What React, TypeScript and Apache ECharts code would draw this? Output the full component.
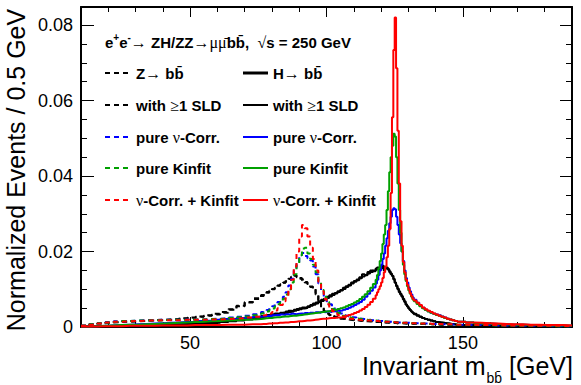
import React, { useEffect, useRef } from "react";
import * as echarts from "echarts";

// ---------- bin layout (left edges, GeV) ----------
function steps(from: number, to: number, step: number): number[] {
  const out: number[] = [];
  for (let x = from; x < to - 1e-9; x += step) out.push(Math.round(x * 10) / 10);
  return out;
}
const binStarts = [
  ...steps(10, 76, 3),
  ...steps(76, 118, 1),
  ...steps(118, 132, 0.5),
  ...steps(132, 148, 1),
  ...steps(148, 190, 3),
];
const X_MIN = 10;
const X_MAX = 190;

// ---------- ZZ -> bb (dashed) ----------
const zbbAll = [
  0.0003, 0.0006, 0.0009, 0.0011, 0.0013, 0.0014, 0.0015, 0.0016, 0.0017, 0.0018, 0.0019, 0.002, 0.0022, 0.0024, 0.0027, 0.003, 0.0033, 0.0038, 0.0046, 0.0055, 0.0066, 0.0076,
  0.0085, 0.0089, 0.0093, 0.0096, 0.0101, 0.0104, 0.0109, 0.0113, 0.0118, 0.0121, 0.0127, 0.0133, 0.0138, 0.0134, 0.013, 0.0124, 0.0118, 0.0112, 0.0107, 0.0101, 0.009, 0.0072, 0.0054, 0.0042, 0.0036, 0.0031, 0.0028, 0.0026, 0.0024, 0.0022, 0.0021, 0.002, 0.0019, 0.0018, 0.0018, 0.0017, 0.0016, 0.0016, 0.0015, 0.0015, 0.0014, 0.0014,
  0.0013, 0.0013, 0.0013, 0.0013, 0.0012, 0.0012, 0.0012, 0.0012, 0.0012, 0.0011, 0.0011, 0.0011, 0.0011, 0.0011, 0.0011, 0.001, 0.001, 0.001, 0.001, 0.001, 0.001, 0.001, 0.0009, 0.0009, 0.0009, 0.0009, 0.0009, 0.0009,
  0.0009, 0.0009, 0.0008, 0.0008, 0.0008, 0.0008, 0.0007, 0.0007, 0.0007, 0.0007, 0.0006, 0.0006, 0.0006, 0.0006, 0.0006, 0.0005,
  0.0005, 0.0005, 0.0005, 0.0004, 0.0004, 0.0004, 0.0004, 0.0003, 0.0003, 0.0003, 0.0003, 0.0003, 0.0002, 0.0002,
];
const zbbSld = [
  0.0003, 0.0007, 0.001, 0.0012, 0.0013, 0.0015, 0.0016, 0.0016, 0.0018, 0.0019, 0.002, 0.0021, 0.0023, 0.0025, 0.0028, 0.0031, 0.0035, 0.004, 0.0047, 0.0056, 0.0065, 0.0074,
  0.0082, 0.0087, 0.0091, 0.0097, 0.01, 0.0106, 0.011, 0.0115, 0.0117, 0.0123, 0.0128, 0.0131, 0.0136, 0.0132, 0.0128, 0.0126, 0.0119, 0.0114, 0.0106, 0.0099, 0.0086, 0.0068, 0.0051, 0.0041, 0.0035, 0.0032, 0.0029, 0.0027, 0.0025, 0.0023, 0.0022, 0.0021, 0.002, 0.0019, 0.0019, 0.0018, 0.0017, 0.0017, 0.0016, 0.0015, 0.0015, 0.0014,
  0.0014, 0.0013, 0.0014, 0.0013, 0.0013, 0.0012, 0.0013, 0.0012, 0.0012, 0.0012, 0.0011, 0.0012, 0.0011, 0.0011, 0.0011, 0.001, 0.0011, 0.001, 0.001, 0.001, 0.001, 0.0009, 0.001, 0.0009, 0.0009, 0.0009, 0.0009, 0.0008,
  0.0009, 0.0008, 0.0008, 0.0008, 0.0007, 0.0008, 0.0007, 0.0007, 0.0007, 0.0006, 0.0006, 0.0006, 0.0006, 0.0005, 0.0005, 0.0005,
  0.0005, 0.0005, 0.0004, 0.0004, 0.0004, 0.0004, 0.0003, 0.0003, 0.0003, 0.0003, 0.0003, 0.0002, 0.0002, 0.0002,
];
const zbbNuCorr = [
  0.0003, 0.0007, 0.001, 0.0013, 0.0015, 0.0016, 0.0017, 0.0018, 0.0018, 0.0019, 0.0019, 0.0019, 0.002, 0.002, 0.002, 0.0021, 0.0022, 0.0023, 0.0025, 0.0027, 0.003, 0.0034,
  0.004, 0.0042, 0.0045, 0.005, 0.0055, 0.006, 0.0066, 0.0072, 0.008, 0.0092, 0.011, 0.0128, 0.015, 0.017, 0.019, 0.0196, 0.0188, 0.0182, 0.0176, 0.016, 0.014, 0.0115, 0.0095, 0.008, 0.0068, 0.006, 0.0052, 0.0046, 0.004, 0.0036, 0.0032, 0.003, 0.0028, 0.0026, 0.0025, 0.0023, 0.0022, 0.0021, 0.002, 0.0019, 0.0018, 0.0018,
  0.0017, 0.0017, 0.0016, 0.0016, 0.0016, 0.0015, 0.0015, 0.0015, 0.0014, 0.0014, 0.0014, 0.0014, 0.0013, 0.0013, 0.0013, 0.0013, 0.0012, 0.0012, 0.0012, 0.0012, 0.0011, 0.0011, 0.0011, 0.0011, 0.0011, 0.001, 0.001, 0.001,
  0.001, 0.001, 0.0009, 0.0009, 0.0009, 0.0009, 0.0008, 0.0008, 0.0008, 0.0008, 0.0007, 0.0007, 0.0007, 0.0007, 0.0006, 0.0006,
  0.0006, 0.0005, 0.0005, 0.0005, 0.0004, 0.0004, 0.0004, 0.0003, 0.0003, 0.0003, 0.0003, 0.0002, 0.0002, 0.0002,
];
const zbbKinfit = [
  0.0003, 0.0007, 0.001, 0.0012, 0.0014, 0.0016, 0.0017, 0.0017, 0.0018, 0.0018, 0.0019, 0.0019, 0.0019, 0.002, 0.002, 0.0021, 0.0021, 0.0022, 0.0024, 0.0026, 0.0028, 0.0031,
  0.0036, 0.0038, 0.0041, 0.0045, 0.0049, 0.0054, 0.006, 0.0066, 0.0075, 0.0086, 0.01, 0.0118, 0.014, 0.0165, 0.019, 0.0208, 0.021, 0.0195, 0.018, 0.0165, 0.0145, 0.012, 0.0098, 0.008, 0.0066, 0.0056, 0.0048, 0.0042, 0.0037, 0.0033, 0.003, 0.0028, 0.0026, 0.0024, 0.0023, 0.0022, 0.0021, 0.002, 0.0019, 0.0018, 0.0018, 0.0017,
  0.0017, 0.0016, 0.0016, 0.0016, 0.0015, 0.0015, 0.0015, 0.0015, 0.0014, 0.0014, 0.0014, 0.0013, 0.0013, 0.0013, 0.0013, 0.0012, 0.0012, 0.0012, 0.0012, 0.0011, 0.0011, 0.0011, 0.0011, 0.001, 0.001, 0.001, 0.001, 0.001,
  0.001, 0.0009, 0.0009, 0.0009, 0.0009, 0.0008, 0.0008, 0.0008, 0.0008, 0.0007, 0.0007, 0.0007, 0.0007, 0.0006, 0.0006, 0.0006,
  0.0006, 0.0005, 0.0005, 0.0005, 0.0004, 0.0004, 0.0004, 0.0003, 0.0003, 0.0003, 0.0003, 0.0002, 0.0002, 0.0002,
];
const zbbNuKin = [
  0.0003, 0.0006, 0.0009, 0.0012, 0.0014, 0.0015, 0.0016, 0.0017, 0.0017, 0.0018, 0.0018, 0.0018, 0.0019, 0.0019, 0.0019, 0.002, 0.002, 0.0021, 0.0022, 0.0023, 0.0025, 0.0027,
  0.0029, 0.0031, 0.0033, 0.0036, 0.004, 0.0044, 0.005, 0.0058, 0.0068, 0.0082, 0.01, 0.0125, 0.016, 0.02, 0.024, 0.027, 0.0262, 0.024, 0.021, 0.018, 0.015, 0.012, 0.0095, 0.0075, 0.006, 0.005, 0.0042, 0.0036, 0.0032, 0.0028, 0.0026, 0.0024, 0.0022, 0.0021, 0.002, 0.0019, 0.0018, 0.0018, 0.0017, 0.0017, 0.0016, 0.0016,
  0.0016, 0.0016, 0.0015, 0.0015, 0.0015, 0.0015, 0.0014, 0.0014, 0.0014, 0.0014, 0.0013, 0.0013, 0.0013, 0.0013, 0.0012, 0.0012, 0.0012, 0.0012, 0.0012, 0.0011, 0.0011, 0.0011, 0.0011, 0.0011, 0.001, 0.001, 0.001, 0.001,
  0.001, 0.001, 0.0009, 0.0009, 0.0009, 0.0009, 0.0008, 0.0008, 0.0008, 0.0008, 0.0007, 0.0007, 0.0007, 0.0007, 0.0006, 0.0006,
  0.0006, 0.0006, 0.0005, 0.0005, 0.0005, 0.0004, 0.0004, 0.0004, 0.0004, 0.0003, 0.0003, 0.0003, 0.0003, 0.0002,
];

// ---------- ZH -> bb (solid) ----------
const hbbAll = [
  0.0001, 0.0001, 0.0002, 0.0002, 0.0003, 0.0003, 0.0004, 0.0004, 0.0005, 0.0005, 0.0006, 0.0006, 0.0007, 0.0008, 0.0009, 0.001, 0.0011, 0.0013, 0.0015, 0.0017, 0.002, 0.0023,
  0.0025, 0.0027, 0.0029, 0.003, 0.0031, 0.0033, 0.0034, 0.0035, 0.0037, 0.0038, 0.004, 0.0041, 0.0043, 0.0045, 0.0047, 0.0049, 0.005, 0.0053, 0.0056, 0.0059, 0.0062, 0.0066, 0.0069, 0.0073, 0.0077, 0.0081, 0.0085, 0.0089, 0.0093, 0.0097, 0.0101, 0.0106, 0.011, 0.0115, 0.012, 0.0124, 0.0129, 0.0134, 0.0137, 0.0142, 0.0146, 0.015,
  0.0152, 0.0156, 0.0155, 0.0158, 0.016, 0.0157, 0.0159, 0.0156, 0.0158, 0.0154, 0.0148, 0.0142, 0.0136, 0.0126, 0.0117, 0.0108, 0.01, 0.0092, 0.0086, 0.008, 0.0073, 0.0066, 0.0059, 0.0054, 0.0049, 0.0045, 0.0041, 0.0038,
  0.0034, 0.003, 0.0027, 0.0024, 0.0021, 0.0019, 0.0017, 0.0015, 0.0013, 0.0012, 0.0011, 0.001, 0.0009, 0.0008, 0.0007, 0.0006,
  0.0005, 0.0005, 0.0004, 0.0004, 0.0003, 0.0003, 0.0003, 0.0002, 0.0002, 0.0002, 0.0001, 0.0001, 0.0001, 0.0001,
];
const hbbSld = [
  0.0001, 0.0002, 0.0002, 0.0003, 0.0003, 0.0004, 0.0004, 0.0005, 0.0005, 0.0006, 0.0006, 0.0007, 0.0008, 0.0009, 0.001, 0.0011, 0.0013, 0.0015, 0.0017, 0.002, 0.0023, 0.0026,
  0.0029, 0.003, 0.0032, 0.0031, 0.0034, 0.0036, 0.0035, 0.0038, 0.0039, 0.0041, 0.0043, 0.0042, 0.0046, 0.0048, 0.005, 0.0052, 0.0051, 0.0055, 0.0058, 0.0062, 0.0065, 0.0068, 0.0072, 0.0075, 0.008, 0.0084, 0.0088, 0.009, 0.0095, 0.0098, 0.0104, 0.0108, 0.0112, 0.0118, 0.0122, 0.0126, 0.0132, 0.014, 0.0138, 0.0146, 0.015, 0.0148,
  0.0155, 0.0158, 0.0152, 0.016, 0.0156, 0.0162, 0.015, 0.0158, 0.0155, 0.0152, 0.0145, 0.014, 0.0135, 0.0128, 0.0118, 0.011, 0.0102, 0.0095, 0.0088, 0.0082, 0.0075, 0.0068, 0.006, 0.0055, 0.005, 0.0045, 0.0041, 0.0038,
  0.0035, 0.0031, 0.0027, 0.0024, 0.0021, 0.0019, 0.0017, 0.0015, 0.0013, 0.0012, 0.0011, 0.001, 0.0009, 0.0008, 0.0007, 0.0006,
  0.0005, 0.0004, 0.0004, 0.0003, 0.0003, 0.0003, 0.0002, 0.0002, 0.0002, 0.0002, 0.0001, 0.0001, 0.0001, 0.0001,
];
const hbbNuCorr = [
  0.0001, 0.0002, 0.0003, 0.0004, 0.0005, 0.0006, 0.0007, 0.0008, 0.0009, 0.001, 0.0011, 0.0012, 0.0013, 0.0014, 0.0016, 0.0017, 0.0019, 0.0021, 0.0022, 0.0024, 0.0025, 0.0027,
  0.0028, 0.0029, 0.003, 0.0029, 0.0031, 0.0032, 0.0031, 0.0033, 0.0032, 0.0034, 0.0033, 0.0035, 0.0034, 0.0035, 0.0036, 0.0035, 0.0037, 0.0036, 0.0038, 0.0037, 0.0039, 0.0038, 0.004, 0.0039, 0.0041, 0.004, 0.0042, 0.0041, 0.0043, 0.0044, 0.0046, 0.0048, 0.0051, 0.0054, 0.0058, 0.0062, 0.0066, 0.0072, 0.008, 0.0088, 0.0096, 0.0105,
  0.0115, 0.0125, 0.0138, 0.015, 0.0165, 0.018, 0.0195, 0.0215, 0.0235, 0.0255, 0.0275, 0.0292, 0.031, 0.0315, 0.0312, 0.0292, 0.027, 0.0245, 0.0222, 0.02, 0.0175, 0.015, 0.013, 0.0118, 0.0105, 0.0095, 0.0086, 0.0078,
  0.0072, 0.0064, 0.0057, 0.0051, 0.0046, 0.0042, 0.0038, 0.0035, 0.0033, 0.0031, 0.0028, 0.0025, 0.0022, 0.002, 0.0018, 0.0016,
  0.0014, 0.0012, 0.001, 0.0009, 0.0008, 0.0007, 0.0006, 0.0006, 0.0005, 0.0005, 0.0004, 0.0004, 0.0004, 0.0003,
];
const hbbKinfit = [
  0.0001, 0.0002, 0.0003, 0.0004, 0.0005, 0.0006, 0.0006, 0.0007, 0.0008, 0.0009, 0.001, 0.0011, 0.0012, 0.0013, 0.0014, 0.0015, 0.0016, 0.0017, 0.0018, 0.0019, 0.002, 0.0021,
  0.0022, 0.0023, 0.0024, 0.0024, 0.0025, 0.0026, 0.0026, 0.0027, 0.0028, 0.0028, 0.0029, 0.003, 0.003, 0.0031, 0.0032, 0.0033, 0.0034, 0.0035, 0.0036, 0.0037, 0.0038, 0.0039, 0.004, 0.0041, 0.0042, 0.0043, 0.0045, 0.0046, 0.0048, 0.005, 0.0052, 0.0055, 0.0058, 0.0061, 0.0065, 0.0069, 0.0074, 0.008, 0.0087, 0.0095, 0.0104, 0.0114,
  0.0125, 0.0138, 0.0155, 0.0175, 0.0195, 0.022, 0.0245, 0.027, 0.031, 0.036, 0.041, 0.045, 0.048, 0.0512, 0.0505, 0.045, 0.038, 0.031, 0.025, 0.02, 0.0165, 0.014, 0.0122, 0.0108, 0.0097, 0.0088, 0.008, 0.0073,
  0.0068, 0.0061, 0.0055, 0.005, 0.0045, 0.0041, 0.0038, 0.0035, 0.0032, 0.003, 0.0027, 0.0024, 0.0022, 0.002, 0.0018, 0.0016,
  0.0014, 0.0012, 0.001, 0.0009, 0.0008, 0.0007, 0.0006, 0.0006, 0.0005, 0.0005, 0.0004, 0.0004, 0.0004, 0.0003,
];
const hbbNuKin = [
  0.0001, 0.0001, 0.0002, 0.0002, 0.0002, 0.0003, 0.0003, 0.0003, 0.0003, 0.0004, 0.0004, 0.0004, 0.0004, 0.0005, 0.0005, 0.0005, 0.0005, 0.0006, 0.0006, 0.0006, 0.0007, 0.0007,
  0.0008, 0.0008, 0.0009, 0.0009, 0.001, 0.001, 0.0011, 0.0011, 0.0012, 0.0012, 0.0013, 0.0013, 0.0014, 0.0015, 0.0015, 0.0016, 0.0017, 0.0017, 0.0018, 0.0019, 0.002, 0.0021, 0.0022, 0.0022, 0.0023, 0.0024, 0.0024, 0.0025, 0.0025, 0.0026, 0.0028, 0.003, 0.0032, 0.0034, 0.0037, 0.004, 0.0044, 0.0048, 0.0053, 0.0059, 0.0066, 0.0075,
  0.0084, 0.0092, 0.01, 0.0108, 0.0118, 0.013, 0.0145, 0.016, 0.0185, 0.0215, 0.026, 0.0355, 0.0556, 0.0734, 0.082, 0.0686, 0.052, 0.038, 0.028, 0.0215, 0.0172, 0.0145, 0.0125, 0.0112, 0.01, 0.009, 0.0082, 0.0075,
  0.007, 0.0064, 0.0058, 0.0052, 0.0047, 0.0043, 0.004, 0.0036, 0.0033, 0.003, 0.0027, 0.0025, 0.0022, 0.002, 0.0018, 0.0016,
  0.0014, 0.0012, 0.0011, 0.001, 0.0009, 0.0008, 0.0007, 0.0007, 0.0006, 0.0006, 0.0005, 0.0005, 0.0005, 0.0004,
];

// ---------- axes / text ----------
const xMajorTicks = [50, 100, 150];
const yMax = 0.0848;
const yTitle = "Normalized Events / 0.5 GeV";
const headerText =
  "{b|e}{sp|+}{b|e}{sp|-}{g|\u2192}{b| ZH/ZZ}{g|\u2192\u03bc\u03bc\u0304}{b|bb\u0304,  }{g|\u221a}{b|s = 250 GeV}";
const legendLeft = [
  "Z{g|\u2192} bb\u0304",
  "with {g|\u2265}1 SLD",
  "pure {g|\u03bd}-Corr.",
  "pure Kinfit",
  "{g|\u03bd}-Corr. + Kinfit",
];
const legendRight = [
  "H{g|\u2192} bb\u0304",
  "with {g|\u2265}1 SLD",
  "pure {g|\u03bd}-Corr.",
  "pure Kinfit",
  "{g|\u03bd}-Corr. + Kinfit",
];

const FONT = "Liberation Sans, Arial, Helvetica, sans-serif";
const GREEN = "#00a000";
const DASH = [5, 4];

type SeriesDef = { name: string; values: number[]; color: string; dashed: boolean; width: number };
const seriesDefs: SeriesDef[] = [
  { name: "Z\u2192bb", values: zbbAll, color: "#000000", dashed: true, width: 2 },
  { name: "Z\u2192bb with \u22651 SLD", values: zbbSld, color: "#000000", dashed: true, width: 2 },
  { name: "H\u2192bb", values: hbbAll, color: "#000000", dashed: false, width: 2 },
  { name: "H\u2192bb with \u22651 SLD", values: hbbSld, color: "#000000", dashed: false, width: 2 },
  { name: "Z pure \u03bd-Corr.", values: zbbNuCorr, color: "#0000ff", dashed: true, width: 2 },
  { name: "H pure \u03bd-Corr.", values: hbbNuCorr, color: "#0000ff", dashed: false, width: 2 },
  { name: "Z pure Kinfit", values: zbbKinfit, color: GREEN, dashed: true, width: 2 },
  { name: "H pure Kinfit", values: hbbKinfit, color: GREEN, dashed: false, width: 2 },
  { name: "Z \u03bd-Corr. + Kinfit", values: zbbNuKin, color: "#ff0000", dashed: true, width: 2 },
  { name: "H \u03bd-Corr. + Kinfit", values: hbbNuKin, color: "#ff0000", dashed: false, width: 2 },
];
const legendColors = ["#000000", "#000000", "#0000ff", GREEN, "#ff0000"];

function histData(values: number[]): number[][] {
  const pts = binStarts.map((x, i) => [x, values[i]]);
  pts.push([X_MAX, values[values.length - 1]]);
  return pts;
}

const richStyles = {
  b: { fontFamily: FONT, fontWeight: "bold", fontSize: 15, fill: "#000" },
  g: { fontFamily: "Liberation Serif, DejaVu Serif, serif", fontWeight: "normal", fontSize: 16, fill: "#000" },
  sp: { fontFamily: FONT, fontWeight: "bold", fontSize: 10, fill: "#000", padding: [0, 0, 9, 0] },
};

export default function App() {
  const ref = useRef<HTMLDivElement>(null);
  useEffect(() => {
    if (!ref.current) return;
    const chart = echarts.init(ref.current, undefined, { renderer: "svg" });

    const axisLineStyle = { color: "#000", width: 2 };
    const tickStyle = { color: "#000", width: 1 };
    const baseX = {
      type: "value" as const,
      min: X_MIN,
      max: X_MAX,
      splitLine: { show: false },
    };
    const baseY = {
      type: "value" as const,
      min: 0,
      max: yMax,
      splitLine: { show: false },
    };
    const yLabelFmt = (v: number) => {
      const k = v / 0.02;
      if (Math.abs(k - Math.round(k)) > 1e-6) return "";
      return v === 0 ? "0" : v.toFixed(2);
    };

    const rowsY = [73, 105, 137, 168, 200];
    const graphics: any[] = [];
    graphics.push({
      type: "text",
      x: 16,
      y: 170,
      rotation: Math.PI / 2,
      style: { text: yTitle, fontFamily: FONT, fontSize: 25, fill: "#000", align: "center", verticalAlign: "middle" },
      silent: true,
    });
    graphics.push({
      type: "text",
      x: 573,
      y: 366,
      style: {
        text: "{t|Invariant m}{s|bb\u0304}{t| [GeV]}",
        align: "right",
        verticalAlign: "middle",
        rich: {
          t: { fontFamily: FONT, fontSize: 25, fill: "#000" },
          s: { fontFamily: FONT, fontSize: 14, fill: "#000", padding: [24, 0, 0, 1] },
        },
      },
      silent: true,
    });
    graphics.push({
      type: "text",
      x: 105,
      y: 42,
      style: {
        text: headerText,
        align: "left",
        verticalAlign: "middle",
        fontFamily: FONT,
        fontWeight: "bold",
        fontSize: 15,
        fill: "#000",
        rich: richStyles,
      },
      silent: true,
    });
    rowsY.forEach((yy, i) => {
      const col = legendColors[i];
      graphics.push({
        type: "line",
        shape: { x1: 105, y1: yy, x2: 131, y2: yy },
        style: { stroke: col, lineWidth: 2, lineDash: DASH },
        silent: true,
      });
      graphics.push({
        type: "line",
        shape: { x1: 243, y1: yy, x2: 268, y2: yy },
        style: { stroke: col, lineWidth: i === 0 ? 3 : 2 },
        silent: true,
      });
      graphics.push({
        type: "text",
        x: 136,
        y: yy,
        style: {
          text: legendLeft[i],
          align: "left",
          verticalAlign: "middle",
          fontFamily: FONT,
          fontWeight: "bold",
          fontSize: 15,
          fill: "#000",
          rich: richStyles,
        },
        silent: true,
      });
      graphics.push({
        type: "text",
        x: 273,
        y: yy,
        style: {
          text: legendRight[i],
          align: "left",
          verticalAlign: "middle",
          fontFamily: FONT,
          fontWeight: "bold",
          fontSize: 15,
          fill: "#000",
          rich: richStyles,
        },
        silent: true,
      });
    });

    const option: any = {
      animation: false,
      backgroundColor: "#ffffff",
      grid: { left: 81, right: 9, top: 7, bottom: 58, containLabel: false, outerBoundsMode: "none" },
      xAxis: [
        {
          ...baseX,
          position: "bottom",
          interval: 10,
          axisLine: { show: true, onZero: false, lineStyle: axisLineStyle },
          axisTick: { show: true, inside: true, length: 5, lineStyle: tickStyle },
          axisLabel: { show: false },
        },
        {
          ...baseX,
          position: "bottom",
          axisLine: { show: false, onZero: false },
          axisTick: { show: true, inside: true, length: 10, customValues: xMajorTicks, lineStyle: tickStyle },
          axisLabel: {
            show: true,
            customValues: xMajorTicks,
            fontFamily: FONT,
            fontSize: 18,
            color: "#000",
            margin: 7,
            formatter: (v: number) => String(v),
          },
        },
        {
          ...baseX,
          position: "top",
          interval: 10,
          axisLine: { show: true, onZero: false, lineStyle: axisLineStyle },
          axisTick: { show: true, inside: true, length: 5, lineStyle: tickStyle },
          axisLabel: { show: false },
        },
        {
          ...baseX,
          position: "top",
          axisLine: { show: false, onZero: false },
          axisTick: { show: true, inside: true, length: 10, customValues: xMajorTicks, lineStyle: tickStyle },
          axisLabel: { show: false },
        },
      ],
      yAxis: [
        {
          ...baseY,
          position: "left",
          interval: 0.005,
          axisLine: { show: true, onZero: false, lineStyle: axisLineStyle },
          axisTick: { show: true, inside: true, length: 6, lineStyle: tickStyle },
          axisLabel: { show: false },
        },
        {
          ...baseY,
          position: "left",
          interval: 0.02,
          axisLine: { show: false, onZero: false },
          axisTick: { show: true, inside: true, length: 13, lineStyle: tickStyle },
          axisLabel: {
            show: true,
            fontFamily: FONT,
            fontSize: 18,
            color: "#000",
            margin: 8,
            formatter: yLabelFmt,
            showMaxLabel: false,
          },
        },
        {
          ...baseY,
          position: "right",
          interval: 0.005,
          axisLine: { show: true, onZero: false, lineStyle: axisLineStyle },
          axisTick: { show: true, inside: true, length: 6, lineStyle: tickStyle },
          axisLabel: { show: false },
        },
        {
          ...baseY,
          position: "right",
          interval: 0.02,
          axisLine: { show: false, onZero: false },
          axisTick: { show: true, inside: true, length: 12, lineStyle: tickStyle },
          axisLabel: { show: false },
        },
      ],
      series: seriesDefs.map((s, i) => ({
        name: s.name,
        type: "line",
        xAxisIndex: 0,
        yAxisIndex: 0,
        step: "end",
        showSymbol: false,
        symbol: "none",
        silent: true,
        z: 2 + i,
        clip: true,
        lineStyle: { color: s.color, width: s.width, type: s.dashed ? DASH : "solid" },
        data: histData(s.values),
      })),
      graphic: graphics,
    };
    chart.setOption(option);
    return () => chart.dispose();
  }, []);

  return (
    <div
      ref={ref}
      style={{ position: "absolute", left: 0, top: 0, width: 581, height: 385, background: "#fff" }}
    />
  );
}
